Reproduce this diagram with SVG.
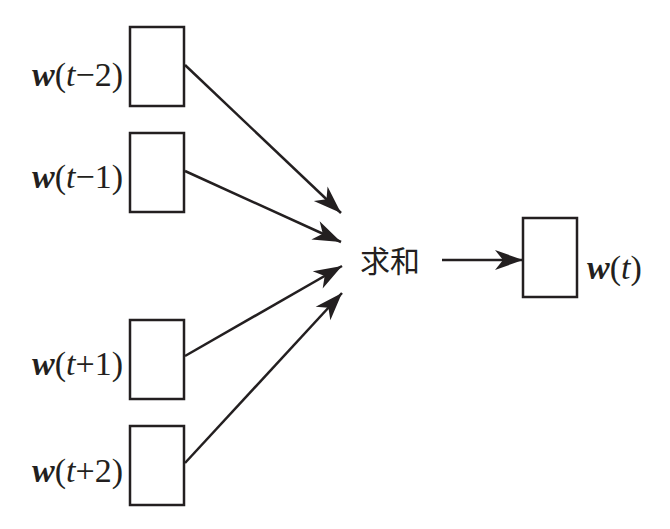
<svg xmlns="http://www.w3.org/2000/svg" width="670" height="529" viewBox="0 0 670 529">
<defs>
<style>
.box{fill:#fff;stroke:#231f20;stroke-width:2.5}
.lbl{font-family:"Liberation Serif",serif;font-size:34px;fill:#231f20}
.w{font-weight:bold;font-style:italic}
.it{font-style:italic}
.cn{font-family:"Noto Sans CJK SC",sans-serif;font-size:30px;fill:#231f20}
.edge{stroke:#231f20;stroke-width:2.5;fill:none;marker-end:url(#ah)}
</style>
<marker id="ah" markerUnits="userSpaceOnUse" markerWidth="32" markerHeight="24" viewBox="-29 -12 31 24" refX="0" refY="0" orient="auto">
<path d="M0,0 L-28,-10 L-20,0 L-28,10 Z" fill="#231f20"/>
</marker>
</defs>
<rect width="670" height="529" fill="#fff"/>
<g id="n1"><rect class="box" x="130" y="27" width="54" height="79"/><text class="lbl" x="123" y="86" text-anchor="end"><tspan class="w">w</tspan>(<tspan class="it">t</tspan>−2)</text></g>
<g id="n2"><rect class="box" x="130" y="133" width="54" height="79"/><text class="lbl" x="123" y="188" text-anchor="end"><tspan class="w">w</tspan>(<tspan class="it">t</tspan>−1)</text></g>
<g id="n3"><rect class="box" x="130" y="320" width="54" height="79"/><text class="lbl" x="123" y="375" text-anchor="end"><tspan class="w">w</tspan>(<tspan class="it">t</tspan>+1)</text></g>
<g id="n4"><rect class="box" x="130" y="426" width="54" height="79"/><text class="lbl" x="123" y="482" text-anchor="end"><tspan class="w">w</tspan>(<tspan class="it">t</tspan>+2)</text></g>
<g id="sum"><text class="cn" x="360" y="272">求和</text></g>
<g id="out"><rect class="box" x="523" y="218" width="54" height="79"/><text class="lbl" x="587" y="279"><tspan class="w">w</tspan>(<tspan class="it">t</tspan>)</text></g>
<g id="connectors">
<line class="edge" x1="185" y1="65" x2="341" y2="213"/>
<line class="edge" x1="185" y1="171" x2="341" y2="242"/>
<line class="edge" x1="185" y1="356" x2="342" y2="266"/>
<line class="edge" x1="185" y1="463" x2="342" y2="293"/>
<line class="edge" x1="442" y1="260" x2="523" y2="260"/>
</g>
</svg>
